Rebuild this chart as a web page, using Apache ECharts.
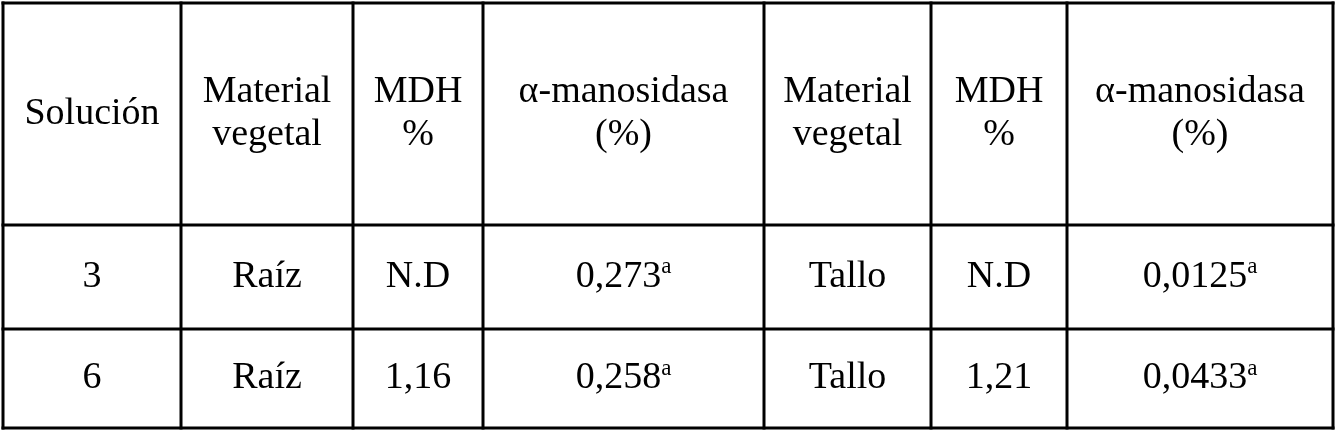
<!DOCTYPE html>
<html><head><meta charset="utf-8">
<script src="https://cdn.jsdelivr.net/npm/echarts@6/dist/echarts.min.js"></script>
<style>html,body{margin:0;background:#fff}#c{width:1336px;height:431px}</style>
</head><body><div id="c"></div>
<script>
// table content
var headers = ['Solución', 'Material\nvegetal', 'MDH\n%', 'α-manosidasa\n(%)', 'Material\nvegetal', 'MDH\n%', 'α-manosidasa\n(%)'];
var solucion = ['3', '6'];
var materialA = ['Raíz', 'Raíz'];
var mdhA = ['N.D', '1,16'];
var manosA = ['0,273', '0,258'];
var materialB = ['Tallo', 'Tallo'];
var mdhB = ['N.D', '1,21'];
var manosB = ['0,0125', '0,0433'];
var supMark = ['a', 'a'];

var colX = [3, 181, 353, 483, 764, 931, 1067, 1333];
var rowY = [3, 225, 329, 428];

var chart = echarts.init(document.getElementById('c'));
var els = [];
var font = '"Liberation Serif", "DejaVu Serif", serif';
colX.forEach(function (x) {
  els.push({type: 'rect', shape: {x: x - 1.5, y: rowY[0] - 1.5, width: 3, height: rowY[3] - rowY[0] + 3}, style: {fill: '#000'}});
});
rowY.forEach(function (y) {
  els.push({type: 'rect', shape: {x: colX[0] - 1.5, y: y - 1.5, width: colX[7] - colX[0] + 3, height: 3}, style: {fill: '#000'}});
});
function cell(c, r, txt, rich) {
  els.push({
    type: 'text',
    x: (colX[c] + colX[c + 1]) / 2, y: (rowY[r] + rowY[r + 1]) / 2,
    style: {text: txt, fill: '#000', font: '38px ' + font, align: 'center', verticalAlign: 'middle', lineHeight: 43, rich: rich}
  });
}
var rich = {n: {font: '38px ' + font, fill: '#000'}, s: {font: '23px ' + font, fill: '#000', verticalAlign: 'top', padding: [0, 0, 14, 0]}};
headers.forEach(function (h, i) { cell(i, 0, h); });
for (var r = 0; r < 2; r++) {
  cell(0, r + 1, solucion[r]);
  cell(1, r + 1, materialA[r]);
  cell(2, r + 1, mdhA[r]);
  cell(3, r + 1, '{n|' + manosA[r] + '}{s|' + supMark[r] + '}', rich);
  cell(4, r + 1, materialB[r]);
  cell(5, r + 1, mdhB[r]);
  cell(6, r + 1, '{n|' + manosB[r] + '}{s|' + supMark[r] + '}', rich);
}
chart.setOption({backgroundColor: '#fff', animation: false, graphic: {elements: els}});
</script></body></html>
